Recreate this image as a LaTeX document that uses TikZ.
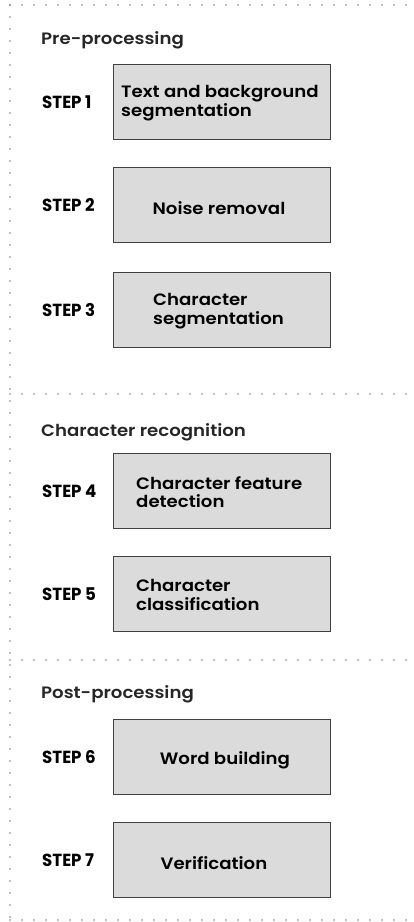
\documentclass[tikz,border=0pt]{standalone}
\usepackage{fontspec}
\setmainfont{Poppins}
\newfontfamily\boxfont[FakeStretch=1.1]{Poppins SemiBold}
\newfontfamily\stepfont[FakeStretch=0.95]{Poppins Bold}
\begin{document}
\begin{tikzpicture}[x=1pt,y=-1pt,
  dotline/.style={draw=black!50, line width=1.6pt, line cap=round, dash pattern=on 0pt off 12pt},
  stepbox/.style={draw=black!75, line width=0.9pt, fill=black!14, minimum width=217pt, minimum height=75pt, inner sep=0pt, anchor=north west},
  boxtext/.style={font=\boxfont\fontsize{16.5}{18.5}\selectfont, align=left, inner sep=0pt, text=black},
  steplabel/.style={font=\stepfont\fontsize{17.5}{18}\selectfont, anchor=west, inner sep=0pt, text=black},
  header/.style={font=\boxfont\fontsize{16.5}{18}\selectfont, anchor=base west, inner sep=0pt, text=black!85}]
\useasboundingbox (0,0) rectangle (413,922);
% dotted frame
\coordinate (tl) at (10,5);
\coordinate (tr) at (413,5);
\coordinate (bl) at (10,920);
\coordinate (br) at (413,920);
\coordinate (m1l) at (10,394);
\coordinate (m1r) at (413,394);
\coordinate (m2l) at (10,660);
\coordinate (m2r) at (413,660);
\draw[dotline] (tl) -- (tr);
\draw[dotline] (tl) -- (bl);
\draw[dotline] (bl) -- (br);
\draw[dotline] (m1l) -- (m1r);
\draw[dotline] (m2l) -- (m2r);
% headers
\node[header] (h1) at (41,44) {Pre-processing};
\node[header] (h2) at (41,436) {Character recognition};
\node[header] (h3) at (41,698) {Post-processing};
% boxes
\node[stepbox] (b1) at (113,64) {};
\node[stepbox] (b2) at (113,167) {};
\node[stepbox] (b3) at (113,272) {};
\node[stepbox] (b4) at (113,453) {};
\node[stepbox] (b5) at (113,556) {};
\node[stepbox] (b6) at (113,719) {};
\node[stepbox] (b7) at (113,822) {};
% box texts
\node[boxtext, anchor=west] (t1) at ([xshift=8pt,yshift=-1pt]b1.west) {Text and background\\segmentation};
\node[boxtext] (t2) at ([xshift=-3pt,yshift=-3pt]b2.center) {Noise removal};
\node[boxtext, anchor=west] (t3) at ([xshift=40pt,yshift=-1pt]b3.west) {Character\\segmentation};
\node[boxtext, anchor=west] (t4) at ([xshift=23pt,yshift=-1pt]b4.west) {Character feature\\detection};
\node[boxtext, anchor=west] (t5) at ([xshift=23pt,yshift=-1pt]b5.west) {Character\\classification};
\node[boxtext] (t6) at ([xshift=3pt,yshift=-3pt]b6.center) {Word building};
\node[boxtext] (t7) at ([xshift=-8pt,yshift=-3pt]b7.center) {Verification};
% step labels
\node[steplabel] (s1) at (b1.west -| 42,0) {STEP 1};
\node[steplabel] (s2) at (b2.west -| 42,0) {STEP 2};
\node[steplabel] (s3) at (b3.west -| 42,0) {STEP 3};
\node[steplabel] (s4) at (b4.west -| 42,0) {STEP 4};
\node[steplabel] (s5) at (b5.west -| 42,0) {STEP 5};
\node[steplabel] (s6) at (b6.west -| 42,0) {STEP 6};
\node[steplabel] (s7) at (b7.west -| 42,0) {STEP 7};
\end{tikzpicture}
\end{document}
